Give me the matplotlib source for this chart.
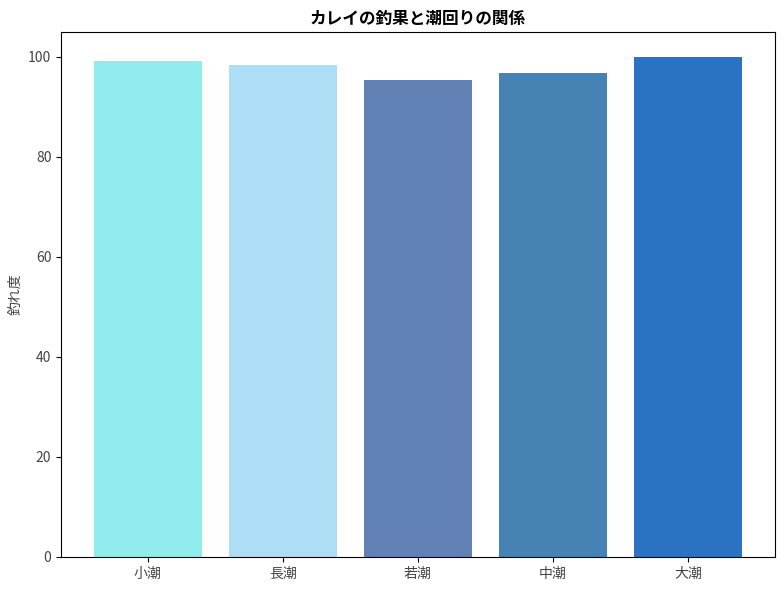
import matplotlib
matplotlib.use("Agg")
import matplotlib.pyplot as plt

plt.rcParams['font.family'] = ['Noto Sans CJK JP', 'DejaVu Sans']

# data
tides = ['小潮', '長潮', '若潮', '中潮', '大潮']
scores = [99.1, 98.4, 95.4, 96.8, 100.0]
colors = ['#91EDED', '#AEDEF5', '#6180B3', '#4682B4', '#2B72C2']

fig, ax = plt.subplots(figsize=(7.84, 5.9), dpi=100)
ax.bar(tides, scores, color=colors, width=0.8)
ax.set_ylim(0, 105)
ax.set_title('カレイの釣果と潮回りの関係', fontsize=12, fontweight='bold')
ax.set_ylabel('釣れ度', fontsize=10, color='#444444')
ax.tick_params(labelsize=10, labelcolor='#444444')
fig.subplots_adjust(left=0.078, right=0.988, top=0.946, bottom=0.056)
fig.savefig('out.png', dpi=100)
